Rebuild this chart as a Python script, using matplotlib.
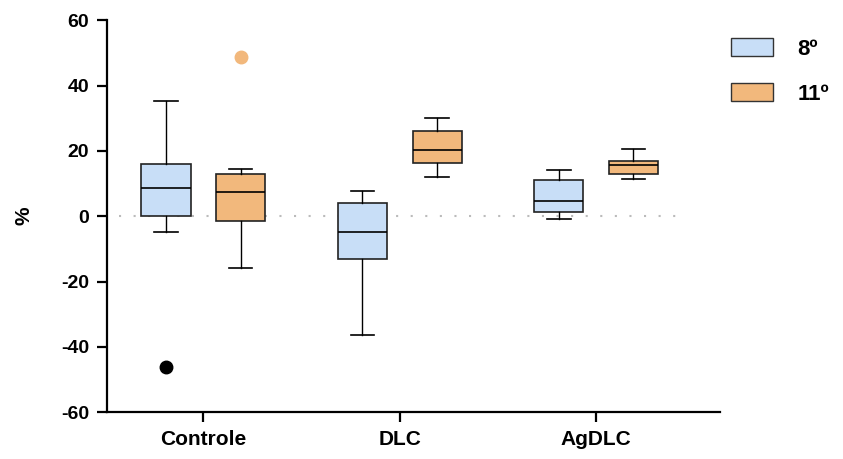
import matplotlib
matplotlib.use("Agg")
import matplotlib.pyplot as plt
from matplotlib.patches import Patch

plt.rcParams['font.family'] = ['Liberation Sans', 'DejaVu Sans']
plt.rcParams['axes.unicode_minus'] = False

categories = ["Controle", "DLC", "AgDLC"]
series = ["8º", "11º"]
colors = ["#C8DEF7", "#F2B87C"]
flier_colors = ["black", "#F2B87C"]

# five-number summaries, per series, per category
whislo = [[-4.9, -36.3, -0.9], [-15.9, 11.9, 11.3]]
q1 = [[0.0, -13.2, 1.2], [-1.6, 16.3, 12.9]]
med = [[8.6, -4.9, 4.5], [7.3, 20.4, 15.6]]
q3 = [[16.1, 4.0, 11.0], [12.9, 26.2, 16.8]]
whishi = [[35.4, 7.6, 14.1], [14.3, 30.0, 20.7]]
fliers = [[[-46.3], [], []], [[48.6], [], []]]

fig = plt.figure(figsize=(8.43, 4.59), dpi=100)
ax = fig.add_axes([0.127, 0.102, 0.727, 0.854])

offsets = [-0.19, 0.19]
for s in range(len(series)):
	stats = []
	for c in range(len(categories)):
		stats.append(dict(whislo=whislo[s][c], q1=q1[s][c], med=med[s][c],
			q3=q3[s][c], whishi=whishi[s][c], fliers=fliers[s][c]))
	pos = [c + offsets[s] for c in range(len(categories))]
	ax.bxp(stats, positions=pos, widths=0.25, capwidths=0.12, patch_artist=True,
		manage_ticks=False,
		boxprops=dict(facecolor=colors[s], edgecolor="#222222", linewidth=1.2),
		medianprops=dict(color="black", linewidth=1.2),
		whiskerprops=dict(color="black", linewidth=1.0),
		capprops=dict(color="black", linewidth=1.2),
		flierprops=dict(marker="o", markersize=9, markerfacecolor=flier_colors[s],
			markeredgecolor=flier_colors[s]))

ax.axhline(0, xmin=0.02, xmax=0.935, color="#BBBBBB", linestyle=(0, (1, 6)),
	linewidth=1.5, zorder=0)

ax.set_xlim(-0.49, 2.63)
ax.set_ylim(-60, 60)
ax.set_yticks(range(-60, 61, 20))
ax.set_xticks(range(len(categories)))
ax.set_xticklabels(categories)
ax.set_ylabel("%", fontsize=15, fontweight="bold", labelpad=20)

for sp in ["top", "right"]:
	ax.spines[sp].set_visible(False)
for sp in ["left", "bottom"]:
	ax.spines[sp].set_linewidth(1.6)
ax.tick_params(axis="both", width=1.6, length=7, labelsize=14)
ax.tick_params(axis="y", pad=6)
ax.tick_params(axis="x", labelsize=15, pad=6)
for lab in ax.get_xticklabels() + ax.get_yticklabels():
	lab.set_fontweight("bold")

handles = [Patch(facecolor=colors[i], edgecolor="#333333", label=series[i])
	for i in range(len(series))]
fig.legend(handles=handles, loc="upper left", bbox_to_anchor=(0.867, 0.918),
	frameon=False, prop=dict(size=16, weight="bold"), handlelength=1.9,
	handleheight=0.9, labelspacing=1.05, handletextpad=1.1, borderpad=0,
	borderaxespad=0)

fig.savefig("out.png", dpi=100)
